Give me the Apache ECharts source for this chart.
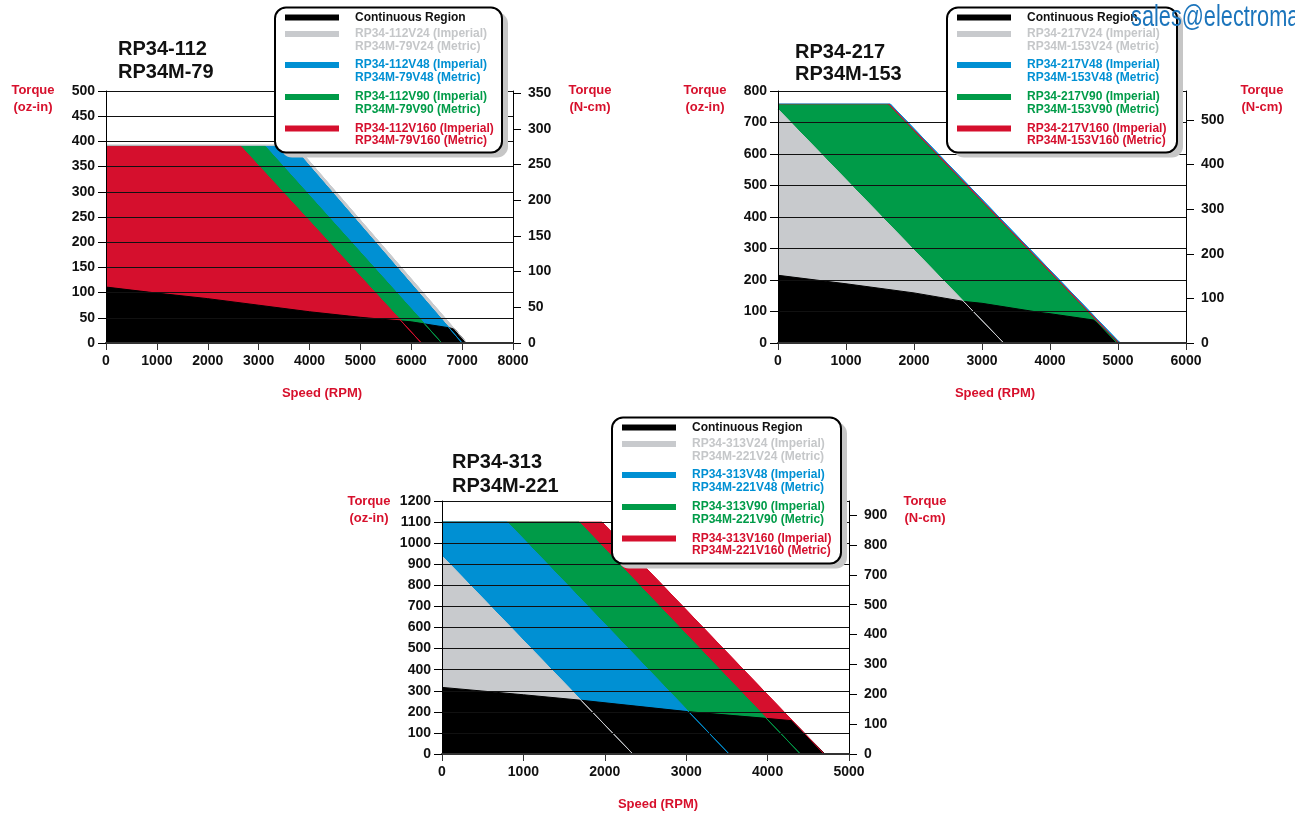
<!DOCTYPE html>
<html><head><meta charset="utf-8">
<script src="https://cdn.jsdelivr.net/npm/echarts@6/dist/echarts.min.js"></script>
<style>html,body{margin:0;padding:0;background:#fff}#c{width:1295px;height:813px}</style>
</head><body><div id="c"></div>
<script>
// ================= DATA (speed in RPM, torque in oz-in) =================
// Chart 1 : RP34-112 / RP34M-79
const c1Title = ['RP34-112', 'RP34M-79'];
const c1Cont = [[0,111],[1000,99],[2000,88],[3000,75],[4000,62],[5000,51],[6000,42],[6760,30],[6860,27],[7090,0]];
const c1V24  = [[0,393],[3720,393],[7090,0]];
const c1V48  = [[0,390],[3670,390],[7000,0]];
const c1V90  = [[0,390],[3130,390],[6600,0]];
const c1V160 = [[0,390],[2650,390],[6200,0]];
const c1NcmTicks  = [0,50,100,150,200,250,300,350];
const c1NcmLabels = ['0','50','100','150','200','250','300','350'];
const c1Legend = ['Continuous Region',
  ['RP34-112V24 (Imperial)','RP34M-79V24 (Metric)'],
  ['RP34-112V48 (Imperial)','RP34M-79V48 (Metric)'],
  ['RP34-112V90 (Imperial)','RP34M-79V90 (Metric)'],
  ['RP34-112V160 (Imperial)','RP34M-79V160 (Metric)']];

// Chart 2 : RP34-217 / RP34M-153
const c2Title = ['RP34-217', 'RP34M-153'];
const c2Cont = [[0,215],[1000,188],[2000,159],[2730,132],[3000,126],[3850,97],[4000,93],[4640,73],[5035,0]];
const c2V24  = [[0,742],[3320,0]];
const c2V48  = [[0,759],[1650,759],[5030,0]];
const c2V90  = [[0,756],[1620,756],[4990,0]];
const c2V160 = [[0,757.5],[1635,757.5],[5010,0]];
const c2NcmTicks  = [0,100,200,300,400,500];
const c2NcmLabels = ['0','100','200','300','400','500'];
const c2Legend = ['Continuous Region',
  ['RP34-217V24 (Imperial)','RP34M-153V24 (Metric)'],
  ['RP34-217V48 (Imperial)','RP34M-153V48 (Metric)'],
  ['RP34-217V90 (Imperial)','RP34M-153V90 (Metric)'],
  ['RP34-217V160 (Imperial)','RP34M-153V160 (Metric)']];

// Chart 3 : RP34-313 / RP34M-221
const c3Title = ['RP34-313', 'RP34M-221'];
const c3Cont = [[0,316],[1000,281],[1709,255],[3015,201],[3982,169],[4300,158],[4705,0]];
const c3V24  = [[0,939],[2345,0]];
const c3V48  = [[0,1100],[801,1100],[3527,0]];
const c3V90  = [[0,1100],[1684,1100],[4403,0]];
const c3V160 = [[0,1100],[1966,1100],[4697,0]];
const c3NcmTicks  = [0,100,200,300,400,500,600,700,800];
const c3NcmLabels = ['0','100','200','300','400','500','700','800','900'];
const c3Legend = ['Continuous Region',
  ['RP34-313V24 (Imperial)','RP34M-221V24 (Metric)'],
  ['RP34-313V48 (Imperial)','RP34M-221V48 (Metric)'],
  ['RP34-313V90 (Imperial)','RP34M-221V90 (Metric)'],
  ['RP34-313V160 (Imperial)','RP34M-221V160 (Metric)']];

const OZIN_TO_NCM = 0.7062;
const speedMax  = [8000, 6000, 5000];
const torqueMax = [500, 800, 1200];
const torqueStep = [50, 100, 100];

// ================= STYLE =================
const COL = {cont:'#000000', v24:'#c8cacd', v48:'#0090d3', v90:'#009b48', v160:'#d50f2d'};
const LEGEND_TXT = {cont:'#111111', v24:'#c5c7c9', v48:'#0090d3', v90:'#009b48', v160:'#d50f2d'};
const RED = '#d7102c';
const FONT = '"Liberation Sans", Arial, Helvetica, sans-serif';

const grids = [
  {left:106, top:91, width:407, height:252},
  {left:778, top:91, width:408, height:252},
  {left:442, top:501, width:407, height:253}
];

const chart = echarts.init(document.getElementById('c'), null, {renderer:'canvas'});

const xAxes = [], yAxes = [], series = [];
const ncmTicks = [c1NcmTicks, c2NcmTicks, c3NcmTicks];
const ncmLabels = [c1NcmLabels, c2NcmLabels, c3NcmLabels];
const plain = function(v){ return String(v); };

for (let i = 0; i < 3; i++) {
  xAxes.push({
    type:'value', gridIndex:i, min:0, max:speedMax[i], interval:1000, z:4,
    axisLine:{show:true, onZero:false, lineStyle:{color:'#333', width:2}},
    axisTick:{show:true, length:7, lineStyle:{color:'#333', width:1}},
    axisLabel:{fontSize:14, fontWeight:'bold', color:'#111', fontFamily:FONT, margin:11, formatter:plain},
    splitLine:{show:false}
  });
  yAxes.push({
    type:'value', gridIndex:i, position:'left', min:0, max:torqueMax[i], interval:torqueStep[i], z:4,
    axisLine:{show:true, lineStyle:{color:'#000', width:1}},
    axisTick:{show:true, length:8, lineStyle:{color:'#000', width:1}},
    axisLabel:{fontSize:14, fontWeight:'bold', color:'#111', fontFamily:FONT, margin:11, formatter:plain},
    splitLine:{show:true, lineStyle:{color:'#111', width:1}}
  });
  const tk = ncmTicks[i], lb = ncmLabels[i];
  yAxes.push({
    type:'value', gridIndex:i, position:'right', min:0, max:torqueMax[i]*OZIN_TO_NCM, z:4,
    axisLine:{show:true, lineStyle:{color:'#000', width:1}},
    axisTick:{show:true, length:8, customValues:tk, lineStyle:{color:'#000', width:1}},
    axisLabel:{fontSize:14, fontWeight:'bold', color:'#111', fontFamily:FONT, margin:15,
      customValues:tk,
      formatter:function(v){ for (let k=0;k<tk.length;k++){ if (Math.abs(tk[k]-v)<1e-6) return lb[k]; } return ''; }},
    splitLine:{show:false}
  });
}

function area(data, color, gi) {
  return {type:'line', data:data, xAxisIndex:gi, yAxisIndex:gi*2, symbol:'none', silent:true,
    z:2, lineStyle:{color:color, width:1}, areaStyle:{color:color, opacity:1}, animation:false};
}
function edge(data, color, gi) {
  return {type:'line', data:data.slice(-2), xAxisIndex:gi, yAxisIndex:gi*2, symbol:'none', silent:true,
    z:3, lineStyle:{color:color, width:1}, animation:false};
}

// Chart 1 (back to front)
series.push(area(c1V24, COL.v24, 0), area(c1V48, COL.v48, 0), area(c1V90, COL.v90, 0), area(c1V160, COL.v160, 0), area(c1Cont, COL.cont, 0));
series.push(edge(c1V24, COL.v24, 0), edge(c1V48, COL.v48, 0), edge(c1V90, COL.v90, 0), edge(c1V160, COL.v160, 0));
// Chart 2
series.push(area(c2V48, COL.v48, 1), area(c2V160, COL.v160, 1), area(c2V90, COL.v90, 1), area(c2V24, COL.v24, 1), area(c2Cont, COL.cont, 1));
series.push(edge(c2V48, COL.v48, 1), edge(c2V160, COL.v160, 1), edge(c2V90, COL.v90, 1), edge(c2V24, COL.v24, 1));
// Chart 3
series.push(area(c3V160, COL.v160, 2), area(c3V90, COL.v90, 2), area(c3V48, COL.v48, 2), area(c3V24, COL.v24, 2), area(c3Cont, COL.cont, 2));
series.push(edge(c3V160, COL.v160, 2), edge(c3V90, COL.v90, 2), edge(c3V48, COL.v48, 2), edge(c3V24, COL.v24, 2));

// ================= GRAPHIC TEXT / LEGENDS =================
const G = [];
function txt(s, x, y, opt) {
  G.push({type:'text', z:100, silent:true, style:Object.assign({text:s, x:x, y:y, fill:'#111',
    fontFamily:FONT, fontSize:13, fontWeight:'bold', align:'left', verticalAlign:'middle'}, opt||{})});
}
function title(lines, x, y1, y2) {
  txt(lines[0], x, y1, {fontSize:20});
  txt(lines[1], x, y2, {fontSize:20});
}
function axisNames(lx, rx, y, sx, sy) {
  txt('Torque', lx, y, {fill:RED, align:'center'});
  txt('(oz-in)', lx, y+17, {fill:RED, align:'center'});
  txt('Torque', rx, y, {fill:RED, align:'center'});
  txt('(N-cm)', rx, y+17, {fill:RED, align:'center'});
  txt('Speed (RPM)', sx, sy, {fill:RED, align:'center'});
}
function legend(items, L, T, W, H) {
  G.push({type:'rect', z:98, silent:true, shape:{x:L+6, y:T+5, width:W, height:H, r:11}, style:{fill:'#c6c6c6'}});
  G.push({type:'rect', z:99, silent:true, shape:{x:L, y:T, width:W, height:H, r:11}, style:{fill:'#fff', stroke:'#000', lineWidth:2}});
  const keys = ['cont','v24','v48','v90','v160'];
  const rowY = [10, 26.5, 57.5, 89.5, 121];
  for (let k = 0; k < 5; k++) {
    const y = T + rowY[k];
    G.push({type:'rect', z:100, silent:true, shape:{x:L+10, y:y-3, width:54, height:6}, style:{fill:COL[keys[k]]}});
    if (k === 0) {
      txt(items[0], L+80, y, {fontSize:12, fill:LEGEND_TXT.cont});
    } else {
      txt(items[k][0], L+80, y, {fontSize:12, fill:LEGEND_TXT[keys[k]]});
      txt(items[k][1], L+80, y+12.5, {fontSize:12, fill:LEGEND_TXT[keys[k]]});
    }
  }
}

title(c1Title, 118, 49, 72);
title(c2Title, 795, 52, 74);
title(c3Title, 452, 462, 486);
axisNames(33, 590, 90, 322, 393);
axisNames(705, 1262, 90, 995, 393);
axisNames(369, 925, 501, 658, 804);
legend(c1Legend, 275, 7.5, 227, 145);
legend(c2Legend, 947, 7.5, 230, 145);
legend(c3Legend, 612, 417.5, 229, 146);

// header text in the corner (partly cut by the page edges)
G.push({type:'text', z:101, silent:true, x:1138, y:-25, scaleX:0.75,
  style:{text:'www.electromate.com', x:0, y:0, fill:'#1c75bc', fontFamily:FONT, fontSize:29, verticalAlign:'top'}});
G.push({type:'text', z:101, silent:true, x:1131, y:3, scaleX:0.75,
  style:{text:'sales@electromate.com', x:0, y:0, fill:'#1c75bc', fontFamily:FONT, fontSize:29, verticalAlign:'top'}});

chart.setOption({
  animation:false,
  backgroundColor:'#ffffff',
  grid:grids,
  xAxis:xAxes,
  yAxis:yAxes,
  series:series,
  graphic:{elements:G}
});
</script></body></html>
